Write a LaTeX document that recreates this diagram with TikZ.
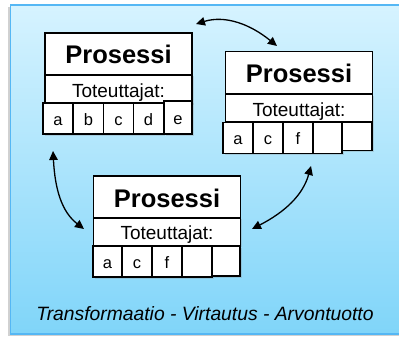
\documentclass[tikz,border=0pt]{standalone}
\usepackage{fontspec}
\setmainfont{Liberation Sans}
\usetikzlibrary{arrows.meta,shadows}
\definecolor{bgtop}{HTML}{D6F3FF}
\definecolor{bgbot}{HTML}{80D5F9}
\definecolor{bgline}{HTML}{55B7F4}
\tikzset{
  part/.style={draw=black, fill=white, line width=1.2pt, inner sep=0pt},
  shd/.style={drop shadow={shadow xshift=1.5pt, shadow yshift=-1.5pt, opacity=0.25}},
  titlebox/.style={part, minimum width=147pt, minimum height=42pt, text height=20pt, text depth=0pt, font=\fontsize{25.5}{27}\selectfont\bfseries},
  rolebox/.style={part, shd, minimum width=147pt, minimum height=28pt, text height=16pt, text depth=0pt, font=\fontsize{19}{21}\selectfont},
  cellbox/.style={part, shd, minimum width=30pt, minimum height=31pt, text height=13pt, text depth=0pt, font=\fontsize{16.5}{18}\selectfont},
  link/.style={line width=1.3pt, {Triangle[length=9pt,width=8.5pt]}-{Triangle[length=9pt,width=8.5pt]}}
}
\begin{document}
\begin{tikzpicture}[x=1pt,y=-1pt]
\useasboundingbox (0,0) rectangle (399,337);
\clip (0,0) rectangle (399,337);
\fill[black!18] (8,7) rectangle (404,336);
\shade[top color=bgtop, bottom color=bgbot, draw=bgline, line width=1pt] (10,5) rectangle (404,334);
\draw[bgline, line width=1.6pt] (10,5) -- (404,5);
\draw[bgline, line width=1.6pt] (10,334) -- (404,334);

% Box 1
\node[rolebox] (r1) at (118.5,89) {Toteuttajat:};
\node[titlebox] (t1) at (118.5,54) {Prosessi};
\node[cellbox] (c1a) at (58,118.5) {a};
\node[cellbox] (c1b) at (88.5,118.5) {b};
\node[cellbox] (c1c) at (118.5,118.5) {c};
\node[cellbox] (c1d) at (148.5,118.5) {d};
\node[cellbox, minimum width=28pt, minimum height=33pt] (c1e) at (178,117.5) {e};

% Box 2
\node[rolebox] (r2) at (299,108) {Toteuttajat:};
\node[titlebox] (t2) at (299,72.5) {Prosessi};
\node[cellbox] (c2a) at (238,138) {a};
\node[cellbox] (c2c) at (268,138) {c};
\node[cellbox] (c2f) at (298,138) {f};
\node[cellbox, minimum width=29pt] (c2x) at (327.5,138) {};
\node[cellbox, minimum height=28pt] (c2y) at (357,136.5) {};

% Box 3
\node[rolebox] (r3) at (167,231.5) {Toteuttajat:};
\node[titlebox] (t3) at (167,197) {Prosessi};
\node[cellbox, minimum width=29pt] (c3a) at (107.5,261.5) {a};
\node[cellbox] (c3c) at (137,261.5) {c};
\node[cellbox] (c3f) at (167,261.5) {f};
\node[cellbox] (c3x) at (197,261.5) {};
\node[cellbox, minimum width=28pt, minimum height=30pt] (c3y) at (226,261) {};

% connectors
\coordinate (p1) at (196,24);
\coordinate (p2) at (277,46);
\coordinate (q1) at (53,151);
\coordinate (q2) at (84,229);
\coordinate (s1) at (311,166);
\coordinate (s2) at (252,229);
\draw[link] (p1) .. controls (225,15) and (250,24) .. (p2);
\draw[link] (q1) .. controls (55,190) and (62,212) .. (q2);
\draw[link] (s1) .. controls (303,195) and (285,212) .. (s2);

\node[font=\fontsize{19.3}{21}\selectfont\itshape, anchor=base, inner sep=0pt] (cap) at (205,320) {Transformaatio - Virtautus - Arvontuotto};
\end{tikzpicture}
\end{document}
